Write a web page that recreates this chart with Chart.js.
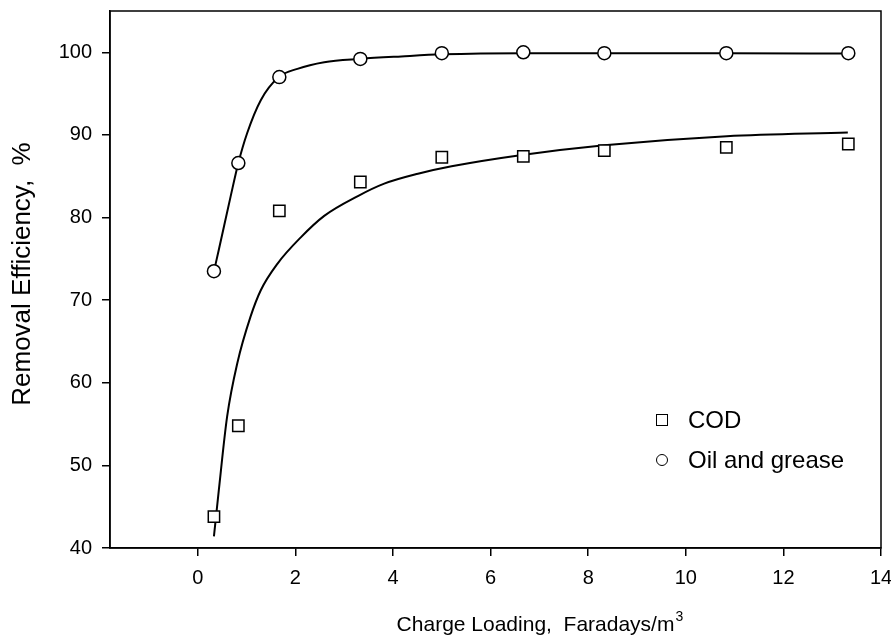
<!DOCTYPE html>
<html lang="en">
<head>
  <meta charset="UTF-8" />
  <title>Removal Efficiency vs Charge Loading</title>
  <style>
    * {
      margin: 0;
      padding: 0;
      box-sizing: border-box;
    }

    body {
      background: #fff;
      width: 891px;
      height: 639px;
      overflow: hidden;
      font-family: 'Liberation Sans', Arial, sans-serif;
    }

    .wrap {
      position: relative;
      width: 891px;
      height: 639px;
    }

    .legend {
      position: absolute;
      left: 656px;
      top: 400px;
      font-size: 24px;
      color: #000;
    }

    .legend .row {
      display: flex;
      align-items: center;
      height: 40px;
    }

    .sym {
      width: 12px;
      height: 12px;
      border: 1.5px solid #000;
      background: #fff;
      margin-right: 20px;
    }

    .sym.circle {
      border-radius: 50%;
    }
  </style>
</head>

<body>
  <div class="wrap">
    <canvas id="chart"></canvas>
    <div class="legend">
      <div class="row"><span class="sym"></span>COD</div>
      <div class="row"><span class="sym circle"></span>Oil and grease</div>
    </div>
  </div>

  <script src="https://cdn.jsdelivr.net/npm/chart.js@4"></script>
  <script>
    // measured points
    const loading = [0.33, 0.83, 1.67, 3.33, 5.0, 6.67, 8.33, 10.83, 13.33];
    const codEff = [43.8, 54.8, 80.8, 84.3, 87.3, 87.4, 88.1, 88.5, 88.9];
    const oilEff = [73.5, 86.6, 97.0, 99.2, 99.9, 100.0, 99.9, 99.9, 99.9];

    // fitted curves
    const codFitX = [0.33, 0.43, 0.6, 0.81, 1.08, 1.29, 1.63, 2.11, 2.59, 3.28, 3.82, 4.51, 5.2, 6.68, 8.33, 10.84, 13.32];
    const codFitY = [41.4, 47.0, 55.9, 62.4, 68.0, 71.2, 74.4, 77.6, 80.2, 82.6, 84.1, 85.3, 86.2, 87.6, 88.75, 89.85, 90.3];
    const oilFitX = [0.33, 0.43, 0.67, 0.83, 1.01, 1.29, 1.66, 2.04, 2.59, 3.33, 4.17, 5.0, 6.67, 8.33, 10.83, 13.33];
    const oilFitY = [73.5, 76.1, 82.5, 86.6, 90.2, 94.2, 97.0, 98.0, 98.8, 99.2, 99.5, 99.75, 99.9, 99.9, 99.9, 99.85];

    const xTicks = [0, 2, 4, 6, 8, 10, 12, 14];
    const yTicks = [40, 50, 60, 70, 80, 90, 100];

    const xTitle = 'Charge Loading,  Faradays/m';
    const xTitleSup = '3';
    const yTitle = 'Removal Efficiency,  %';

    const FONT = "'Liberation Sans', Arial, sans-serif";

    const pts = (xs, ys) => xs.map((x, i) => ({ x, y: ys[i] }));

    const frameAndTitles = {
      id: 'frameAndTitles',
      afterDraw(chart) {
        const { ctx, chartArea: a, scales } = chart;
        ctx.save();
        ctx.strokeStyle = '#000';
        ctx.lineWidth = 1.5;
        ctx.strokeRect(a.left, a.top, a.right - a.left, a.bottom - a.top);

        ctx.fillStyle = '#000';
        // x title
        ctx.font = `21px ${FONT}`;
        const w = ctx.measureText(xTitle).width;
        ctx.font = `14px ${FONT}`;
        const ws = ctx.measureText(xTitleSup).width;
        const cx = scales.x.getPixelForValue(7);
        const x0 = cx - (w + ws) / 2;
        ctx.textBaseline = 'alphabetic';
        ctx.textAlign = 'left';
        ctx.font = `21px ${FONT}`;
        ctx.fillText(xTitle, x0, 631);
        ctx.font = `14px ${FONT}`;
        ctx.fillText(xTitleSup, x0 + w + 1, 621);

        // y title
        ctx.font = `26px ${FONT}`;
        ctx.translate(23, 274);
        ctx.rotate(-Math.PI / 2);
        ctx.textAlign = 'center';
        ctx.textBaseline = 'middle';
        ctx.fillText(yTitle, 0, 0);
        ctx.restore();
      }
    };

    new Chart(document.getElementById('chart'), {
      type: 'scatter',
      data: {
        datasets: [
          {
            label: 'COD',
            data: pts(loading, codEff),
            pointStyle: 'rect',
            pointRadius: 8,
            pointBorderWidth: 1.5,
            pointBorderColor: '#000',
            pointBackgroundColor: '#fff'
          },
          {
            label: 'Oil and grease',
            data: pts(loading, oilEff),
            pointStyle: 'circle',
            pointRadius: 6.5,
            pointBorderWidth: 1.5,
            pointBorderColor: '#000',
            pointBackgroundColor: '#fff'
          },
          {
            label: 'COD fit',
            data: pts(codFitX, codFitY),
            showLine: true,
            pointRadius: 0,
            borderColor: '#000',
            borderWidth: 2,
            cubicInterpolationMode: 'monotone'
          },
          {
            label: 'Oil fit',
            data: pts(oilFitX, oilFitY),
            showLine: true,
            pointRadius: 0,
            borderColor: '#000',
            borderWidth: 2,
            cubicInterpolationMode: 'monotone'
          }
        ]
      },
      options: {
        responsive: true,
        maintainAspectRatio: false,
        animation: false,
        layout: { padding: { left: 0, right: 10, top: 11, bottom: 0 } },
        plugins: {
          legend: { display: false },
          tooltip: { enabled: false }
        },
        scales: {
          x: {
            type: 'linear',
            min: -1.8,
            max: 14,
            afterBuildTicks: s => { s.ticks = xTicks.map(v => ({ value: v })); },
            afterFit: s => { s.height = 91; s.paddingLeft = 0; s.paddingRight = 0; },
            grid: { drawOnChartArea: false, drawTicks: true, tickLength: 8, color: '#000', lineWidth: 1.5 },
            border: { display: true, color: '#000', width: 1.5 },
            ticks: { color: '#000', font: { family: FONT, size: 20 }, padding: 10, maxRotation: 0 }
          },
          y: {
            type: 'linear',
            min: 40,
            max: 105,
            afterBuildTicks: s => { s.ticks = yTicks.map(v => ({ value: v })); },
            afterFit: s => { s.width = 110; s.paddingTop = 0; s.paddingBottom = 0; },
            grid: { drawOnChartArea: false, drawTicks: true, tickLength: 8, color: '#000', lineWidth: 1.5 },
            border: { display: true, color: '#000', width: 1.5 },
            ticks: { color: '#000', font: { family: FONT, size: 20 }, padding: 10 }
          }
        }
      },
      plugins: [frameAndTitles]
    });
  </script>
</body>

</html>
